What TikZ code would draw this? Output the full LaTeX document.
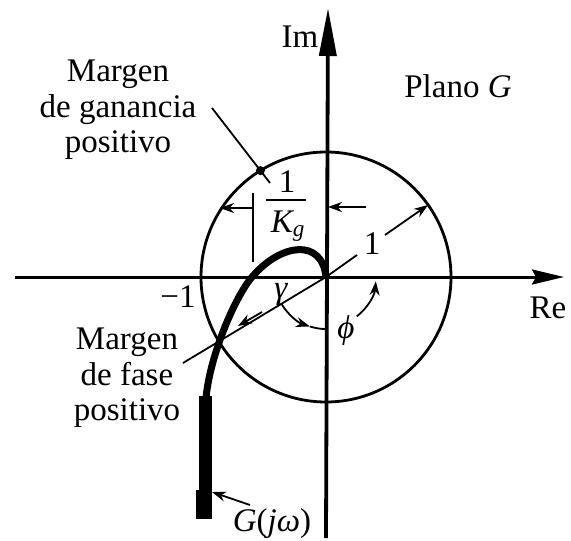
\documentclass[tikz,border=0pt]{standalone}
\usepackage{fontspec}
\setmainfont{Liberation Serif}
\usetikzlibrary{arrows.meta}
\begin{document}
\begin{tikzpicture}[x=1pt,y=-1pt,
  ax/.style={line width=3pt},
  circ/.style={line width=2.8pt},
  thinl/.style={line width=1.8pt},
  nyq/.style={line width=7pt},
  tip/.style={-{Stealth[length=14pt,width=10pt]}},
  lbl/.style={inner sep=0pt,font=\fontsize{33}{35.5}\selectfont}]
\useasboundingbox (0,0) rectangle (571,541);
% key points
\coordinate (O) at (326,277);
\coordinate (reL) at (15,277);
\coordinate (reR) at (564,277);
\coordinate (imB) at (326,538);
\coordinate (imT) at (328,8);
% axes
\draw[ax,-{Stealth[length=32pt,width=15pt,inset=4pt]}] (reL) -- (reR);
\draw[line width=3.8pt,-{Triangle[length=48pt,width=17pt]}] (imB) -- (imT);
% unit circle
\draw[circ] (O) circle[radius=125];
% Nyquist curve
\coordinate (nq0) at (206,398);
\coordinate (nqx) at (252,277);
\draw[nyq] (nq0) .. controls (210,355) and (235,297) .. (nqx)
  .. controls (281,243) and (322,238) .. (O);
\fill (199,396) rectangle (212,492);
\fill (196,490) rectangle (212,519);
% 1/Kg dimension
\coordinate (kgT) at (253,193);
\coordinate (kgB) at (253,262);
\draw[thinl] (kgT) -- (kgB);
\coordinate (kgA) at (253,208);
\coordinate (kgAe) at (220,208);
\draw[thinl,tip] (kgA) -- (kgAe);
\coordinate (kgC) at (366,207);
\coordinate (kgCe) at (328,207);
\draw[thinl,tip] (kgC) -- (kgCe);
\node[lbl] (kone) at (287,182) {1};
\coordinate (barL) at (266,200);
\coordinate (barR) at (306,200);
\draw[line width=1.5pt] (barL) -- (barR);
\node[lbl] (kg) at (288,226) {\itshape K\textsubscript{g}};
% radius 1
\coordinate (r1) at (357,255);
\coordinate (r2) at (385,235);
\coordinate (r3) at (428,205);
\draw[thinl] (O) -- (r1);
\node[lbl] (one) at (372,244) {1};
\draw[thinl,tip] (r2) -- (r3);
% phase line
\coordinate (pA) at (183,363);
\draw[thinl] (O) -- (pA);
\coordinate (g1) at (262,312);
\coordinate (g2) at (238,326);
\draw[thinl,tip] (g1) -- (g2);
\node[lbl] (gam) at (281,294) {\itshape γ};
% phi arcs
\coordinate (f1) at (281.4,303.8);
\draw[thinl,tip] (f1) arc[start angle=149,end angle=108,radius=52] coordinate (f2);
\draw[thinl] (f2) arc[start angle=108,end angle=90,radius=52];
\coordinate (f3) at (356.8,316.4);
\draw[thinl,tip] (f3) arc[start angle=52,end angle=5,radius=50];
\node[lbl] (phi) at (346,331) {\itshape ϕ};
% gain margin pointer
\coordinate (gm1) at (212,108);
\coordinate (gm2) at (270,183);
\draw[thinl] (gm1) -- (gm2);
\coordinate (gmx) at (260.4,170.6);
\fill (gmx) circle[radius=4.5];
% G(jw) pointer
\coordinate (gj1) at (250,505);
\coordinate (gj2) at (212,492);
\draw[thinl,tip] (gj1) -- (gj2);
% labels
\node[lbl] (im) at (300,37) {Im};
\node[lbl] (re) at (548,308) {Re};
\node[lbl,anchor=base] (plano) at (458,97) {Plano \itshape G};
\node[lbl] (m1) at (178,297) {−1};
\node[lbl,anchor=north,align=center] (mg) at (118,60) {Margen\\de ganancia\\positivo};
\node[lbl,anchor=north,align=center] (mf) at (127,328) {Margen\\de fase\\positivo};
\node[lbl,anchor=base] (gjw) at (272,531) {\itshape G\upshape (\itshape jω\upshape )};
\end{tikzpicture}
\end{document}
